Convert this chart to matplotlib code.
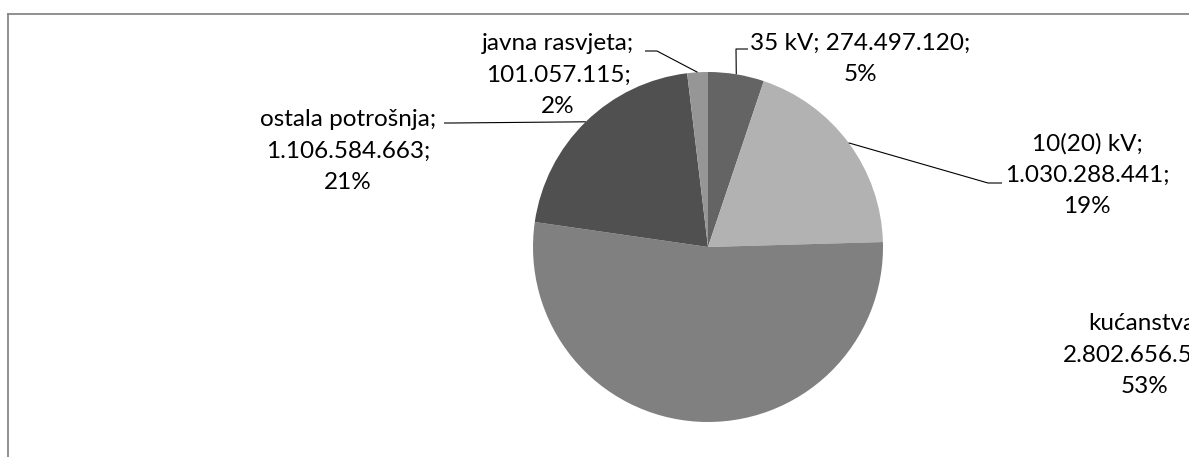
import numpy as np
import matplotlib.pyplot as plt
from matplotlib.lines import Line2D

# data
categories = ["35 kV", "10(20) kV", "kućanstva", "ostala potrošnja", "javna rasvjeta"]
values = [274497120, 1030288441, 2802656550, 1106584663, 101057115]
colors = ["#646464", "#b2b2b2", "#808080", "#505050", "#969696"]

# layout (pixel coords from top-left of the 1189x457 image)
W, H = 1189, 457
center_px = (708, 247)
radius_px = 175
label_pos = [(860, 59), (1087, 175), (1145, 355), (348, 151), (558, 75)]
# leader elbow point and stub end, None = no leader
leader_pts = [((736, 49), (748, 49)),
              ((988, 183), (1002, 183)),
              None,
              ((452, 123), (444, 123)),
              ((657, 51), (645, 51))]
wrap_first = [False, True, True, True, True]


def fmt(v):
    return f"{v:,}".replace(",", ".")


plt.rcParams['font.family'] = ['Lato', 'DejaVu Sans']

fig = plt.figure(figsize=(W / 100, H / 100), dpi=100)
ax = fig.add_axes([0, 0, 1, 1])

cx, cy = center_px[0], H - center_px[1]
wedges, _ = ax.pie(values, colors=colors, startangle=90, counterclock=False,
                   center=(cx, cy), radius=radius_px, frame=True)
ax.set_xlim(0, W)
ax.set_ylim(0, H)
ax.set_aspect('equal')
ax.axis('off')

total = sum(values)
for i, (cat, v) in enumerate(zip(categories, values)):
    pct = f"{round(100 * v / total)}%"
    if wrap_first[i]:
        txt = f"{cat};\n{fmt(v)};\n{pct}"
    else:
        txt = f"{cat}; {fmt(v)};\n{pct}"
    lx, ly = label_pos[i]
    ax.text(lx, H - ly, txt, ha='center', va='center', multialignment='center',
            fontsize=17.5, linespacing=1.6, color='black')

    if leader_pts[i] is not None:
        w = wedges[i]
        mid = np.deg2rad((w.theta1 + w.theta2) / 2)
        sx = cx + radius_px * np.cos(mid)
        sy = cy + radius_px * np.sin(mid)
        (ex, ey), (tx, ty) = leader_pts[i]
        ax.plot([sx, ex, tx], [sy, H - ey, H - ty], color='black', lw=0.8,
                solid_capstyle='butt')

# chart area border (runs off the right and bottom edges)
fig.add_artist(Line2D([8 / W, 1.01], [1 - 14 / H, 1 - 14 / H],
                      transform=fig.transFigure, color='#878787', lw=1.3))
fig.add_artist(Line2D([8 / W, 8 / W], [1 - 14 / H, -0.01],
                      transform=fig.transFigure, color='#878787', lw=1.3))

fig.savefig("out.png", dpi=100, facecolor='white')
